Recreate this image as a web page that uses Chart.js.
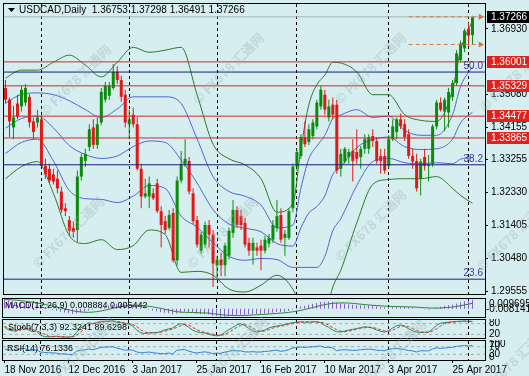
<!DOCTYPE html>
<html>
<head>
<meta charset="utf-8">
<title>USDCAD, Daily</title>
<script src="https://cdn.jsdelivr.net/npm/chart.js@4.4.1/dist/chart.umd.min.js"></script>
<style>
  html, body { margin: 0; padding: 0; }
  body { width: 529px; height: 376px; background: #d7eef1; position: relative; overflow: hidden; }
  canvas { position: absolute; left: 0; }
  #chMain { top: 0; }
  #chMacd { top: 298px; }
  #chStoch { top: 319px; }
  #chRsi { top: 340px; }
  .wm {
    position: absolute; white-space: nowrap; pointer-events: none;
    font: bold 13px "Noto Sans CJK SC", sans-serif; color: rgba(150, 172, 178, 0.35);
    transform: translate(-50%, -50%) rotate(-45deg);
  }
</style>
</head>
<body>
<canvas id="chMain" width="529" height="298"></canvas>
<canvas id="chMacd" width="529" height="20"></canvas>
<canvas id="chStoch" width="529" height="20"></canvas>
<canvas id="chRsi" width="529" height="36"></canvas>

<div class="wm" style="left:75px;top:80px">© FX678 汇通网</div>
<div class="wm" style="left:228px;top:68px">© FX678 汇通网</div>
<div class="wm" style="left:370px;top:68px">© FX678 汇通网</div>
<div class="wm" style="left:515px;top:75px">© FX678 汇通网</div>
<div class="wm" style="left:68px;top:232px">© FX678 汇通网</div>
<div class="wm" style="left:222px;top:232px">© FX678 汇通网</div>
<div class="wm" style="left:370px;top:225px">© FX678 汇通网</div>
<div class="wm" style="left:512px;top:235px">© FX678 汇通网</div>
<div class="wm" style="left:80px;top:352px">© FX678 汇通网</div>
<div class="wm" style="left:232px;top:352px">© FX678 汇通网</div>
<div class="wm" style="left:390px;top:355px">© FX678 汇通网</div>
<div class="wm" style="left:512px;top:362px">© FX678 汇通网</div>

<script>
// =========================
// DATA  (one bar per trading day, 18 Nov 2016 -> 2 May 2017)
// =========================
const opens = [1.3527,1.3494,1.3416,1.3483,1.3475,1.3486,1.3502,1.3433,1.3430,
  1.3439,1.3308,1.3300,1.3284,1.3272,1.3236,1.3189,1.3156,1.3134,1.3128,1.3278,1.3322,1.3361,1.3416,1.3367,1.3430,1.3494,1.3505,1.3527,1.3572,1.3549,1.3508,
  1.3425,1.3452,1.3425,1.3300,1.3222,1.3222,1.3231,1.3259,1.3181,1.3153,1.3134,1.3176,1.3043,1.3267,1.3314,1.3322,1.3231,1.3156,1.3070,1.3087,1.3142,1.3115,
  1.3029,1.3045,1.3029,1.3056,1.3120,1.3184,1.3167,1.3148,1.3092,1.3070,1.3079,1.3084,1.3070,1.3090,1.3101,1.3134,1.3170,1.3106,1.3106,1.3189,
  1.3306,1.3336,1.3389,1.3375,1.3392,1.3419,1.3475,1.3508,1.3444,1.3480,1.3480,1.3300,1.3320,1.3333,1.3350,1.3347,1.3333,1.3356,1.3356,1.3392,1.3378,1.3336,1.3336,
  1.3308,1.3383,1.3403,1.3439,1.3425,1.3397,1.3336,1.3322,1.3272,1.3333,1.3308,1.3314,1.3419,1.3486,1.3461,1.3458,1.3502,1.3541,1.3605,1.3638,
  1.3693,1.36753];
const highs = [1.3549,1.3500,1.3477,1.3508,1.3533,1.3538,1.3511,1.3444,1.3466,
  1.3450,1.3328,1.3314,1.3300,1.3295,1.3250,1.3203,1.3167,1.3151,1.3295,1.3342,1.3356,1.3425,1.3439,1.3444,1.3527,1.3544,1.3544,1.3594,1.3588,1.3561,1.3522,
  1.3466,1.3472,1.3444,1.3314,1.3272,1.3278,1.3245,1.3272,1.3195,1.3167,1.3184,1.3189,1.3278,1.3350,1.3383,1.3333,1.3245,1.3167,1.3123,1.3151,1.3156,1.3128,
  1.3056,1.3065,1.3092,1.3134,1.3212,1.3195,1.3184,1.3162,1.3106,1.3106,1.3092,1.3101,1.3112,1.3117,1.3156,1.3212,1.3189,1.3128,1.3189,1.3314,
  1.3356,1.3397,1.3433,1.3425,1.3439,1.3494,1.3533,1.3522,1.3494,1.3500,1.3494,1.3356,1.3361,1.3356,1.3383,1.3411,1.3364,1.3397,1.3397,1.3411,1.3389,1.3356,1.3356,
  1.3394,1.3439,1.3444,1.3455,1.3439,1.3411,1.3356,1.3342,1.3328,1.3356,1.3339,1.3425,1.3494,1.3500,1.3500,1.3527,1.3549,1.3633,1.3660,1.3693,
  1.3710,1.37298];
const lows = [1.3483,1.3389,1.3383,1.3439,1.3461,1.3477,1.3416,1.3383,1.3416,
  1.3306,1.3272,1.3259,1.3256,1.3231,1.3176,1.3167,1.3112,1.3106,1.3095,1.3267,1.3306,1.3350,1.3356,1.3356,1.3422,1.3486,1.3494,1.3522,1.3538,1.3488,1.3416,
  1.3383,1.3416,1.3295,1.3189,1.3217,1.3189,1.3212,1.3176,1.3079,1.3117,1.3128,1.3037,1.3029,1.3259,1.3306,1.3228,1.3145,1.3079,1.3062,1.3079,1.3079,1.2968,
  1.2995,1.2998,1.2998,1.3045,1.3106,1.3134,1.3128,1.3079,1.3056,1.3031,1.3056,1.3015,1.3062,1.3079,1.3092,1.3123,1.3092,1.3056,1.3101,1.3178,
  1.3295,1.3328,1.3361,1.3367,1.3383,1.3411,1.3466,1.3452,1.3433,1.3439,1.3286,1.3278,1.3314,1.3314,1.3264,1.3314,1.3300,1.3342,1.3342,1.3361,1.3314,1.3286,1.3286,
  1.3300,1.3378,1.3383,1.3411,1.3378,1.3328,1.3300,1.3236,1.3225,1.3295,1.3264,1.3306,1.3411,1.3461,1.3405,1.3416,1.3491,1.3533,1.3599,1.3627,
  1.3646,1.36491];
const closes = [1.3494,1.3433,1.3444,1.3447,1.3522,1.3527,1.3430,1.3403,1.3444,
  1.3308,1.3284,1.3267,1.3264,1.3245,1.3184,1.3181,1.3126,1.3123,1.3278,1.3333,1.3342,1.3411,1.3367,1.3425,1.3516,1.3533,1.3533,1.3572,1.3549,1.3502,1.3430,
  1.3439,1.3425,1.3300,1.3222,1.3231,1.3259,1.3217,1.3181,1.3142,1.3128,1.3170,1.3043,1.3267,1.3314,1.3328,1.3236,1.3153,1.3087,1.3115,1.3142,1.3115,1.3034,
  1.3045,1.3029,1.3084,1.3126,1.3184,1.3142,1.3142,1.3087,1.3070,1.3092,1.3070,1.3070,1.3101,1.3106,1.3142,1.3167,1.3101,1.3117,1.3181,1.3306,
  1.3347,1.3389,1.3369,1.3411,1.3430,1.3486,1.3522,1.3466,1.3475,1.3452,1.3295,1.3342,1.3356,1.3347,1.3322,1.3328,1.3356,1.3383,1.3389,1.3378,1.3322,1.3322,1.3295,
  1.3383,1.3419,1.3439,1.3419,1.3389,1.3336,1.3320,1.3245,1.3320,1.3308,1.3311,1.3419,1.3486,1.3466,1.3494,1.3516,1.3541,1.3624,1.3652,1.3688,
  1.3674,1.37266];

// Bollinger lines at these bar positions
const bandIdx = [0,4,8,12,16,20,24,28,32,36,40,44,48,52,56,60,64,68,72,74,76,78,80,82,84,88,92,96,100,104,108,112,114,117];
const bbOuterUp  = [1.3555,1.3577,1.3577,1.3599,1.3619,1.3591,1.3558,1.3599,1.3641,1.3627,1.3633,1.3641,1.3508,1.3369,1.3328,1.3311,1.3272,1.3178,1.3203,1.3356,1.3480,1.3536,1.3563,1.3599,1.3597,1.3572,1.3508,1.3508,1.3452,1.3436,1.3433,1.3522,1.3633,1.3716];
const bbInnerUp  = [1.3484,1.3509,1.3513,1.3508,1.3491,1.3466,1.3444,1.3468,1.3502,1.3502,1.3502,1.3483,1.3384,1.3278,1.3236,1.3223,1.3198,1.3134,1.3142,1.3245,1.3328,1.3364,1.3394,1.3441,1.3451,1.3466,1.3444,1.3448,1.3408,1.3394,1.3394,1.3452,1.3531,1.3587];
const bbMiddle   = [1.3414,1.3441,1.3448,1.3415,1.3365,1.3340,1.3329,1.3336,1.3362,1.3378,1.3374,1.3325,1.3260,1.3185,1.3145,1.3133,1.3123,1.3090,1.3083,1.3134,1.3176,1.3194,1.3224,1.3284,1.3306,1.3360,1.3382,1.3389,1.3362,1.3354,1.3356,1.3383,1.3429,1.3459];
const bbInnerLow = [1.3343,1.3374,1.3383,1.3322,1.3239,1.3216,1.3214,1.3205,1.3223,1.3253,1.3245,1.3167,1.3136,1.3092,1.3054,1.3043,1.3048,1.3045,1.3023,1.3023,1.3023,1.3023,1.3054,1.3126,1.3160,1.3253,1.3320,1.3329,1.3317,1.3314,1.3317,1.3314,1.3327,1.3331];
const bbOuterLow = [1.3272,1.3306,1.3320,1.3231,1.3112,1.3090,1.3101,1.3073,1.3084,1.3128,1.3115,1.3009,1.3012,1.3001,1.2962,1.2954,1.2973,1.3001,1.2962,1.2912,1.2871,1.2851,1.2885,1.2968,1.3015,1.3148,1.3256,1.3270,1.3272,1.3272,1.3278,1.3245,1.3225,1.3203];

// horizontal objects
const resLevels = [1.36001, 1.35329, 1.34477, 1.33865];
const fibLevels = [1.35716, 1.33112, 1.29899];
const fibNames = ['50.0', '38.2', '23.6'];
const lastPrice = 1.37266;
const arrowLevels = [1.37266, 1.36491];
const priceTicks = [1.36930, 1.35080, 1.34155, 1.33255, 1.32330, 1.31405, 1.30480, 1.29555];

// MACD(12,26,9), values in thousandths
const macdHist = [9.7,8.6,7.5,6.6,6.2,5.9,5.0,4.1,3.6,
  2.2,0.9,-0.2,-1.1,-1.9,-2.9,-3.6,-4.5,-5.2,-4.6,-3.6,-2.8,-1.6,-0.9,0.0,1.3,2.3,3.2,4.1,4.4,4.6,4.2,
  3.8,3.3,2.2,0.9,-0.1,-0.8,-1.6,-2.4,-3.3,-4.0,-4.4,-5.5,-4.6,-3.7,-2.9,-3.1,-3.9,-4.8,-5.3,-5.5,-5.7,-6.8,
  -7.4,-8.141,-7.9,-7.5,-6.7,-6.2,-5.8,-5.8,-5.7,-5.4,-5.3,-5.2,-4.9,-4.6,-4.0,-3.3,-3.1,-2.9,-2.2,-0.6,
  0.8,2.2,3.0,3.9,4.8,5.8,6.8,7.0,7.2,7.1,5.9,5.3,4.9,4.5,4.0,3.6,3.4,3.4,3.4,3.2,2.6,2.1,1.5,
  1.6,1.9,2.3,2.4,2.3,1.8,1.3,0.3,-0.1,-0.4,-0.6,0.2,1.3,2.0,2.7,3.4,4.1,5.3,6.4,7.4,
  8.1,8.884];
const macdSignal = [9.0,9.0,8.8,8.5,8.1,7.6,7.1,6.4,5.8,
  5.1,4.3,3.5,2.6,1.7,0.8,-0.1,-1.0,-1.9,-2.6,-3.1,-3.4,-3.5,-3.3,-2.9,-2.3,-1.5,-0.6,0.4,1.3,2.1,2.7,
  3.2,3.5,3.5,3.3,3.0,2.5,1.9,1.2,0.5,-0.4,-1.2,-2.1,-2.8,-3.3,-3.5,-3.6,-3.7,-3.8,-4.0,-4.1,-4.3,-4.8,
  -5.3,-5.8,-6.2,-6.5,-6.6,-6.7,-6.7,-6.6,-6.4,-6.2,-5.9,-5.7,-5.5,-5.2,-4.9,-4.6,-4.3,-4.0,-3.6,-3.0,
  -2.3,-1.6,-0.8,0.2,1.2,2.2,3.2,4.1,4.8,5.4,5.7,5.8,5.8,5.7,5.4,5.0,4.6,4.2,3.8,3.5,3.2,3.0,2.7,
  2.5,2.3,2.2,2.1,2.0,1.9,1.8,1.6,1.3,1.1,0.8,0.7,0.7,0.8,1.0,1.3,1.7,2.3,3.0,3.8,
  4.6,5.442];

// Stoch(7,3,3)
const stochMain = [60,45,40,38,55,62,45,35,40,
  15,8,6,8,10,6,5,5,8,30,55,70,85,80,85,92,93,93,95,88,85,80,
  78,68,45,30,25,28,30,30,35,45,50,55,70,80,75,60,45,35,30,28,22,15,
  12,15,30,45,58,72,80,70,55,40,32,38,44,55,62,66,70,75,80,85,
  88,90,88,88,90,90,85,70,60,45,35,33,38,44,48,52,58,62,60,55,45,38,33,
  40,55,68,72,65,52,40,33,30,32,33,50,70,82,86,88,90,92,93,94,
  92,92.3241];
const stochSignal = [65,55,48,41,44,52,54,47,40,
  30,21,10,7,8,8,7,5,6,14,31,52,70,78,83,86,90,93,94,92,89,84,
  81,75,64,47,33,28,28,29,32,37,43,50,58,68,75,72,60,47,37,31,27,22,
  16,14,19,30,44,58,70,74,68,55,42,37,38,46,54,61,66,70,75,80,
  84,88,89,89,89,89,88,82,72,58,47,38,35,38,43,48,53,57,60,59,53,46,39,
  37,43,54,65,68,63,52,42,34,32,32,38,51,67,79,85,88,90,92,93,
  93,89.6298];

// RSI(14)
const rsiValues = [58,52,53,53,60,61,52,49,53,
  42,40,38,38,36,32,32,29,28,46,52,53,58,54,59,66,68,68,70,63,58,52,
  53,52,43,38,39,42,39,36,34,33,37,30,50,54,55,47,41,37,40,43,40,34,
  36,35,41,45,51,48,48,43,42,44,42,42,45,46,49,52,46,48,54,63,
  66,68,66,68,69,72,74,66,67,64,49,53,54,53,51,51,54,56,57,56,51,51,48,
  56,59,60,58,55,50,48,42,49,48,48,58,64,61,63,65,67,72,74,76,
  74,76.1336];

// time axis
const sepIdx = [9, 31, 53, 73, 96, 116];          // first bar of each month
const dateIdx = [0, 16, 32, 48, 64, 80, 96, 112];
const dateLabels = ['18 Nov 2016','12 Dec 2016','3 Jan 2017','25 Jan 2017','16 Feb 2017','10 Mar 2017','3 Apr 2017','25 Apr 2017'];

// =========================
// Common config
// =========================
const FONT = '"Liberation Sans", Arial, sans-serif';
const X_MIN = -0.375, X_MAX = 120.125;   // 4px per bar, bar 0 at x=4
const UP = '#0a8c0a', DOWN = '#e01818';
const GREEN_BB = '#2a7a2a', BLUE_BB = '#4a68d2';
const candleColors = closes.map((c, i) => c >= opens[i] ? UP : DOWN);

const pts = arr => arr.map((v, i) => ({ x: i, y: v }));
const bandPts = arr => arr.map((v, i) => ({ x: bandIdx[i], y: v }));
const hline = v => [{ x: X_MIN, y: v }, { x: X_MAX, y: v }];

const xHidden = { type: 'linear', min: X_MIN, max: X_MAX, offset: false, display: false };
const baseOpts = {
  responsive: false, animation: false, events: [], devicePixelRatio: 1,
  plugins: { legend: { display: false }, tooltip: { enabled: false } }
};

function txt(ctx, s, x, y, color, size, align) {
  ctx.save();
  ctx.font = size + 'px ' + FONT;
  ctx.fillStyle = color;
  ctx.textAlign = align || 'left';
  ctx.textBaseline = 'middle';
  ctx.fillText(s, x, y);
  ctx.restore();
}

// border + month separators for every panel
const framePlugin = extra => ({
  id: 'frame',
  beforeDatasetsDraw(chart) {
    const { ctx, chartArea: a, scales: { x } } = chart;
    ctx.save();
    ctx.strokeStyle = '#000';
    ctx.lineWidth = 1;
    ctx.setLineDash([3, 3]);
    sepIdx.forEach(i => {
      const px = Math.floor(x.getPixelForValue(i)) + 0.5;
      ctx.beginPath(); ctx.moveTo(px, a.top); ctx.lineTo(px, a.bottom); ctx.stroke();
    });
    ctx.restore();
  },
  afterDraw(chart) {
    const { ctx, chartArea: a } = chart;
    ctx.save();
    ctx.strokeStyle = '#000';
    ctx.lineWidth = 1;
    ctx.strokeRect(a.left - 0.5, a.top - 0.5, a.right - a.left + 1, a.bottom - a.top + 1);
    ctx.restore();
    if (extra) extra(chart);
  }
});

// =========================
// Main price panel
// =========================
const lineDs = (data, color, order, extra) => Object.assign({
  type: 'line', data, borderColor: color, borderWidth: 1, pointRadius: 0, order
}, extra || {});

const mainDatasets = [
  // arrows at the last close / low
  ...arrowLevels.map(v => lineDs([{ x: 101, y: v }, { x: 119, y: v }], '#d9773a', 0, {
    borderDash: [4, 3], pointRadius: [0, 3.5], pointStyle: 'triangle', rotation: 90,
    pointBackgroundColor: '#d9773a', pointBorderWidth: 0
  })),
  ...resLevels.map(v => lineDs(hline(v), '#cc2a2a', 1)),
  ...fibLevels.map(v => lineDs(hline(v), '#1c1c78', 1)),
  lineDs(hline(lastPrice), '#a9b4b6', 1),
  {
    label: 'body', order: 2, grouped: false, inflateAmount: 0, barThickness: 3,
    data: opens.map((o, i) => ({ x: i, y: [o, closes[i]] })), backgroundColor: candleColors
  },
  {
    label: 'wick', order: 3, grouped: false, inflateAmount: 0, barThickness: 1,
    data: lows.map((l, i) => ({ x: i, y: [l, highs[i]] })), backgroundColor: candleColors
  },
  lineDs(bandPts(bbOuterUp), GREEN_BB, 4, { cubicInterpolationMode: 'monotone' }),
  lineDs(bandPts(bbOuterLow), GREEN_BB, 4, { cubicInterpolationMode: 'monotone' }),
  lineDs(bandPts(bbInnerUp), BLUE_BB, 4, { cubicInterpolationMode: 'monotone' }),
  lineDs(bandPts(bbMiddle), BLUE_BB, 4, { cubicInterpolationMode: 'monotone' }),
  lineDs(bandPts(bbInnerLow), BLUE_BB, 4, { cubicInterpolationMode: 'monotone' })
];

function drawMainText(chart) {
  const { ctx, scales: { y } } = chart;
  // title
  ctx.save();
  ctx.fillStyle = '#000';
  ctx.beginPath(); ctx.moveTo(8, 8); ctx.lineTo(15, 8); ctx.lineTo(11.5, 12); ctx.closePath(); ctx.fill();
  ctx.restore();
  txt(ctx, 'USDCAD,Daily  1.36753 1.37298 1.36491 1.37266', 19, 10, '#000', 10);
  // fibo labels
  fibLevels.forEach((v, i) => txt(ctx, fibNames[i], 483, y.getPixelForValue(v) - 6, '#3a3a9a', 10, 'right'));
  // highlighted price labels
  const box = (v, bg) => {
    const py = Math.round(y.getPixelForValue(v));
    ctx.save();
    ctx.fillStyle = bg;
    ctx.fillRect(487, py - 6, 42, 12);
    ctx.restore();
    txt(ctx, v.toFixed(5), 491, py, '#fff', 10);
  };
  box(lastPrice, '#000');
  resLevels.forEach(v => box(v, '#e3201b'));
}

new Chart(document.getElementById('chMain'), {
  type: 'bar',
  data: { datasets: mainDatasets },
  options: Object.assign({}, baseOpts, {
    layout: { padding: { left: 3, right: 0, top: 3, bottom: 1 } },
    scales: {
      x: xHidden,
      y: {
        position: 'right', min: 1.29483, max: 1.37627, beginAtZero: false,
        afterBuildTicks: s => { s.ticks = priceTicks.map(v => ({ value: v })); },
        afterFit: s => { s.width = 44; s.paddingTop = 0; s.paddingBottom = 0; },
        grid: { display: true, drawOnChartArea: false, drawTicks: true, tickLength: 3, color: '#000' },
        border: { display: false },
        ticks: { color: '#000', padding: 3, font: { family: FONT, size: 10 }, callback: v => v.toFixed(5) }
      }
    }
  }),
  plugins: [framePlugin(drawMainText)]
});

// =========================
// MACD panel
// =========================
new Chart(document.getElementById('chMacd'), {
  type: 'bar',
  data: {
    datasets: [
      lineDs(pts(macdSignal), '#1f8a2a', 0),
      { order: 1, data: pts(macdHist), backgroundColor: '#8f5fc6', barThickness: 1, inflateAmount: 0, grouped: false }
    ]
  },
  options: Object.assign({}, baseOpts, {
    layout: { padding: { left: 3, right: 44, top: 1, bottom: 1 } },
    scales: { x: xHidden, y: { display: false, min: -8.141, max: 9.695, beginAtZero: false } }
  }),
  plugins: [framePlugin(chart => {
    const { ctx } = chart;
    txt(ctx, 'MACD(12,26,9) 0.008884 0.005442', 5, 8, '#000', 9);
    txt(ctx, '0.009695', 489, 6, '#000', 10);
    txt(ctx, '-0.008141', 486, 11, '#000', 10);
  })]
});

// =========================
// Stochastic panel
// =========================
new Chart(document.getElementById('chStoch'), {
  type: 'line',
  data: {
    datasets: [
      lineDs(pts(stochSignal), '#e02828', 0, { borderDash: [3, 2] }),
      lineDs(pts(stochMain), '#1f8c55', 1),
      lineDs(hline(80), '#9fb0b3', 2, { borderDash: [3, 3] }),
      lineDs(hline(20), '#9fb0b3', 2, { borderDash: [3, 3] })
    ]
  },
  options: Object.assign({}, baseOpts, {
    layout: { padding: { left: 3, right: 44, top: 1, bottom: 1 } },
    scales: { x: xHidden, y: { display: false, min: 0, max: 100 } }
  }),
  plugins: [framePlugin(chart => {
    const { ctx, scales: { y } } = chart;
    txt(ctx, 'Stoch(7,3,3) 92.3241 89.6298', 8, 9, '#000', 9);
    txt(ctx, '80', 489, y.getPixelForValue(80), '#000', 10);
    txt(ctx, '20', 489, y.getPixelForValue(20), '#000', 10);
  })]
});

// =========================
// RSI panel + time axis
// =========================
new Chart(document.getElementById('chRsi'), {
  type: 'line',
  data: {
    datasets: [
      lineDs(pts(rsiValues), '#2f7fd4', 0),
      lineDs(hline(70), '#9fb0b3', 1, { borderDash: [3, 3] }),
      lineDs(hline(30), '#9fb0b3', 1, { borderDash: [3, 3] })
    ]
  },
  options: Object.assign({}, baseOpts, {
    layout: { padding: { left: 3, right: 44, top: 1, bottom: 0 } },
    scales: {
      x: {
        type: 'linear', min: X_MIN, max: X_MAX, offset: false, position: 'bottom',
        afterBuildTicks: s => { s.ticks = dateIdx.map(v => ({ value: v })); },
        afterFit: s => { s.height = 16; s.paddingLeft = 0; s.paddingRight = 0; },
        grid: { display: true, drawOnChartArea: false, drawTicks: true, tickLength: 3, color: '#000' },
        border: { display: false },
        ticks: {
          autoSkip: false, maxRotation: 0, minRotation: 0, align: 'start', padding: 1,
          color: '#000', font: { family: FONT, size: 10 },
          callback: (v, i) => dateLabels[i]
        }
      },
      y: { display: false, min: 0, max: 100 }
    }
  }),
  plugins: [framePlugin(chart => {
    const { ctx, scales: { y } } = chart;
    txt(ctx, 'RSI(14) 76.1336', 7, 9, '#000', 9);
    txt(ctx, '100', 489, y.getPixelForValue(100) + 3, '#000', 10);
    txt(ctx, '70', 489, y.getPixelForValue(70), '#000', 10);
    txt(ctx, '30', 489, y.getPixelForValue(30), '#000', 10);
    txt(ctx, '0', 489, y.getPixelForValue(0) - 3, '#000', 10);
  })]
});
</script>
</body>
</html>
